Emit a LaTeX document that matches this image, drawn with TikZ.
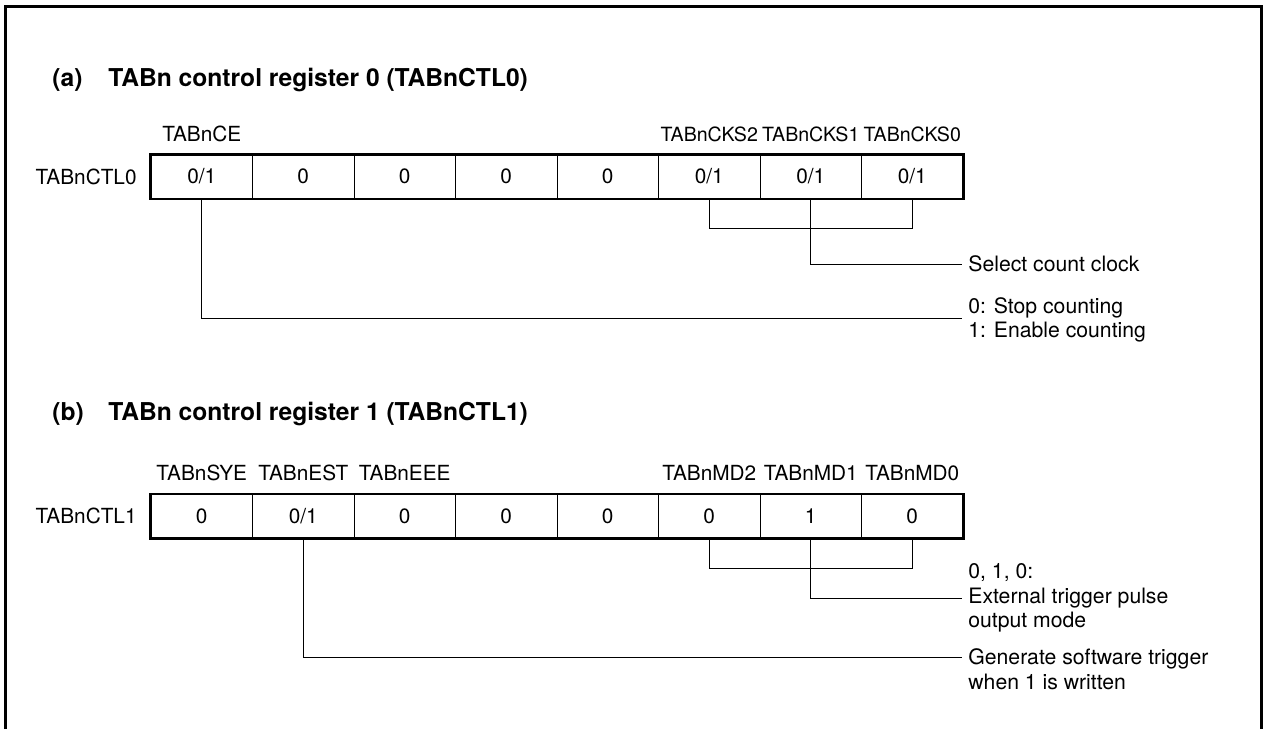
\documentclass[tikz,border=0pt]{standalone}
\usepackage{fontspec}
\setmainfont{TeX Gyre Heros}
\begin{document}
\begin{tikzpicture}[x=0.5pt,y=-0.5pt,
  frame/.style={line width=1.5pt},
  cell/.style={draw,line width=0.5pt,minimum width=50.75pt,minimum height=21.75pt,inner sep=0pt,font=\fontsize{10.4}{12.5}\selectfont},
  outer/.style={line width=1.25pt},
  bitname/.style={inner sep=0pt,font=\fontsize{10.4}{12}\selectfont},
  narrowbit/.style={inner sep=0pt,font=\fontsize{9.8}{12}\selectfont},
  reglabel/.style={anchor=east,inner sep=0pt,font=\fontsize{10.4}{12.5}\selectfont},
  titletext/.style={anchor=west,inner sep=0pt,font=\bfseries\fontsize{12.3}{14}\selectfont},
  desc/.style={anchor=west,inner xsep=3pt,inner ysep=0pt,align=left,font=\fontsize{10.6}{12.3}\selectfont},
  conn/.style={line width=0.5pt}
]
\useasboundingbox (0,0) rectangle (1265,729);
\draw[frame] (5.5,729) -- (5.5,6.5) -- (1261.5,6.5) -- (1261.5,729);

% ---------- (a) ----------
\node[titletext] (ta1) at (52,80) {(a)};
\node[titletext] (ta2) at (108,80) {TABn control register 0 (TABnCTL0)};

\node[bitname] (n0ce) at (201.75,134) {TABnCE};
\node[narrowbit] (n0k2) at (709.25,134) {TABnCKS2};
\node[narrowbit] (n0k1) at (810.75,134) {TABnCKS1};
\node[narrowbit] (n0k0) at (912.25,134) {TABnCKS0};

\node[reglabel] (reg0) at (137,176.5) {TABnCTL0};
\node[cell] (r0c1) at (201.75,176.5) {0/1};
\node[cell] (r0c2) at (303.25,176.5) {0};
\node[cell] (r0c3) at (404.75,176.5) {0};
\node[cell] (r0c4) at (506.25,176.5) {0};
\node[cell] (r0c5) at (607.75,176.5) {0};
\node[cell] (r0c6) at (709.25,176.5) {0/1};
\node[cell] (r0c7) at (810.75,176.5) {0/1};
\node[cell] (r0c8) at (912.25,176.5) {0/1};
\draw[outer] (r0c1.north west) rectangle (r0c8.south east);

\node[desc] (sel) at (962,264) {Select count clock};
\node[desc] (stop) at (962,320) {0: Stop counting\\1: Enable counting};

\draw[conn] (r0c6.south) -- ++(0,30) -| (r0c8.south);
\draw[conn] (r0c7.south) |- (sel.west);
\draw[conn] (r0c1.south) |- ([yshift=1pt]stop.west);

% ---------- (b) ----------
\node[titletext] (tb1) at (52,414) {(b)};
\node[titletext] (tb2) at (108,414) {TABn control register 1 (TABnCTL1)};

\node[bitname] (n1sye) at (201.75,473) {TABnSYE};
\node[bitname] (n1est) at (303.25,473) {TABnEST};
\node[bitname] (n1eee) at (404.75,473) {TABnEEE};
\node[bitname] (n1m2) at (709.25,473) {TABnMD2};
\node[bitname] (n1m1) at (810.75,473) {TABnMD1};
\node[bitname] (n1m0) at (912.25,473) {TABnMD0};

\node[reglabel] (reg1) at (137,516) {TABnCTL1};
\node[cell] (r1c1) at (201.75,516) {0};
\node[cell] (r1c2) at (303.25,516) {0/1};
\node[cell] (r1c3) at (404.75,516) {0};
\node[cell] (r1c4) at (506.25,516) {0};
\node[cell] (r1c5) at (607.75,516) {0};
\node[cell] (r1c6) at (709.25,516) {0};
\node[cell] (r1c7) at (810.75,516) {1};
\node[cell] (r1c8) at (912.25,516) {0};
\draw[outer] (r1c1.north west) rectangle (r1c8.south east);

\node[desc] (ext) at (962,598) {0, 1, 0:\\External trigger pulse\\output mode};
\node[desc] (gen) at (962,669.3) {Generate software trigger\\when 1 is written};

\draw[conn] (r1c6.south) -- ++(0,30) -| (r1c8.south);
\draw[conn] (r1c7.south) |- (ext.west);
\draw[conn] (r1c2.south) |- ([yshift=6.15pt]gen.west);
\end{tikzpicture}
\end{document}
